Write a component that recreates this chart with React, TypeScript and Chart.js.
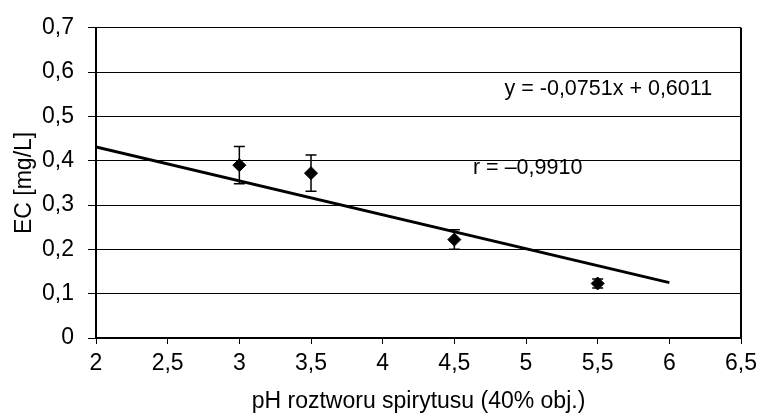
import { useEffect, useRef } from 'react';
import { Chart, registerables } from 'chart.js';

Chart.register(...registerables);

// Measured EC against pH of the spirit solution
const phValues = [3, 3.5, 4.5, 5.5];
const ecValues = [0.39, 0.372, 0.222, 0.123];
const ecErrors = [0.042, 0.041, 0.022, 0.01];

// Fitted trend line end points
const trendX = [2, 6];
const trendY = [0.431, 0.125];

const xTickLabels = ['2', '2,5', '3', '3,5', '4', '4,5', '5', '5,5', '6', '6,5'];
const yTickLabels = ['0', '0,1', '0,2', '0,3', '0,4', '0,5', '0,6', '0,7'];

const equationText = 'y = -0,0751x + 0,6011';
const correlationText = 'r = –0,9910';

const FONT_FAMILY = "'Liberation Sans', Arial, sans-serif";

const extrasPlugin = {
  id: 'extras',
  afterDatasetsDraw(chart: any) {
    const { ctx, scales } = chart;
    const xs = scales.x;
    const ys = scales.y;
    ctx.save();
    ctx.strokeStyle = '#000';
    ctx.lineWidth = 1.5;
    phValues.forEach((ph, i) => {
      const px = xs.getPixelForValue(ph);
      const top = ys.getPixelForValue(ecValues[i] + ecErrors[i]);
      const bot = ys.getPixelForValue(ecValues[i] - ecErrors[i]);
      ctx.beginPath();
      ctx.moveTo(px, top);
      ctx.lineTo(px, bot);
      ctx.moveTo(px - 5.5, top);
      ctx.lineTo(px + 5.5, top);
      ctx.moveTo(px - 5.5, bot);
      ctx.lineTo(px + 5.5, bot);
      ctx.stroke();
    });
    ctx.restore();
  },
  afterDraw(chart: any) {
    const { ctx, chartArea, scales } = chart;
    ctx.save();
    // right frame edge of the plot area
    ctx.strokeStyle = '#000';
    ctx.lineWidth = 2;
    ctx.beginPath();
    ctx.moveTo(chartArea.right, chartArea.top);
    ctx.lineTo(chartArea.right, chartArea.bottom);
    ctx.stroke();

    ctx.fillStyle = '#000';
    ctx.font = `21.5px ${FONT_FAMILY}`;
    ctx.textAlign = 'left';
    ctx.textBaseline = 'middle';
    ctx.fillText(equationText, scales.x.getPixelForValue(4.85), scales.y.getPixelForValue(0.562));
    ctx.fillText(correlationText, scales.x.getPixelForValue(4.63), scales.y.getPixelForValue(0.383));
    ctx.restore();
  },
};

export default function App() {
  const canvasRef = useRef<HTMLCanvasElement | null>(null);

  useEffect(() => {
    if (!canvasRef.current) return;
    const font = { family: FONT_FAMILY, size: 23 };
    const chart = new Chart(canvasRef.current, {
      type: 'scatter',
      data: {
        datasets: [
          {
            type: 'scatter',
            data: phValues.map((x, i) => ({ x, y: ecValues[i] })),
            pointStyle: 'rectRot',
            pointRadius: 6.5,
            pointBorderWidth: 1,
            backgroundColor: '#000',
            borderColor: '#000',
            order: 1,
          },
          {
            type: 'line',
            data: trendX.map((x, i) => ({ x, y: trendY[i] })),
            borderColor: '#000',
            borderWidth: 3,
            pointRadius: 0,
            fill: false,
            order: 2,
          } as any,
        ],
      },
      options: {
        animation: false,
        responsive: true,
        maintainAspectRatio: false,
        layout: { padding: { top: 23, right: 15, left: 0, bottom: 0 } },
        plugins: { legend: { display: false }, tooltip: { enabled: false } },
        scales: {
          x: {
            type: 'linear',
            min: 2,
            max: 6.5,
            afterFit(scale: any) {
              scale.height = 81;
            },
            ticks: {
              stepSize: 0.5,
              color: '#000',
              font,
              padding: 6,
              maxRotation: 0,
              autoSkip: false,
              callback: (_v: any, i: number) => xTickLabels[i],
            },
            grid: { drawOnChartArea: false, color: '#000', tickLength: 6, lineWidth: 1 },
            border: { display: true, color: '#000', width: 2 },
            title: {
              display: true,
              text: 'pH roztworu spirytusu (40% obj.)',
              color: '#000',
              font,
              padding: { top: 0, bottom: 4 },
            },
          },
          y: {
            type: 'linear',
            min: 0,
            max: 0.7,
            afterFit(scale: any) {
              scale.width = 96;
            },
            ticks: {
              stepSize: 0.1,
              color: '#000',
              font,
              padding: 14,
              autoSkip: false,
              callback: (_v: any, i: number) => yTickLabels[i],
            },
            grid: { color: '#000', tickLength: 8, lineWidth: 1 },
            border: { display: true, color: '#000', width: 2 },
            title: {
              display: true,
              text: 'EC [mg/L]',
              color: '#000',
              font,
              padding: { top: 11, bottom: 0 },
            },
          },
        },
      },
      plugins: [extrasPlugin],
    });
    return () => chart.destroy();
  }, []);

  return (
    <div style={{ position: 'fixed', left: 0, top: 0, width: 763, height: 419, background: '#fff' }}>
      <canvas ref={canvasRef} />
    </div>
  );
}
